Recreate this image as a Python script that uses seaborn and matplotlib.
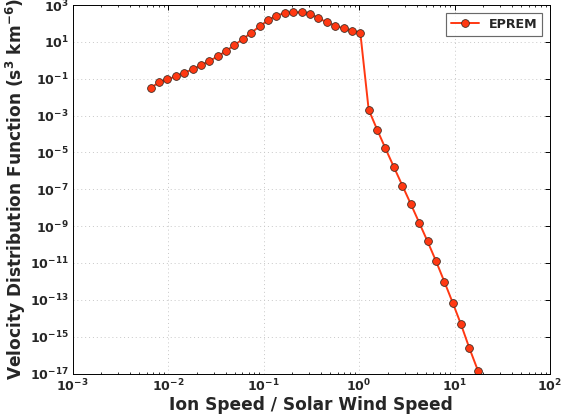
import numpy as np
import pandas as pd
import matplotlib
matplotlib.use("Agg")
import matplotlib.pyplot as plt
import seaborn as sns

# Ion speed normalised by solar wind speed (log-spaced grid)
speed = [0.00655, 0.00801, 0.00981, 0.0120, 0.0147, 0.0180, 0.0220, 0.0270,
         0.0330, 0.0404, 0.0495, 0.0606, 0.0742, 0.0908, 0.111, 0.136,
         0.167, 0.204, 0.250, 0.306, 0.375, 0.459, 0.562, 0.688,
         0.842, 1.03, 1.26, 1.55, 1.89, 2.32, 2.84, 3.48,
         4.26, 5.21, 6.38, 7.81, 9.57, 11.7, 14.3, 17.6]

# Velocity distribution function, s^3 km^-6 (log10 values)
log_vdf = [-1.50, -1.20, -1.04, -0.875, -0.68, -0.495, -0.277, -0.043,
           0.212, 0.50, 0.826, 1.152, 1.495, 1.842, 2.168, 2.418,
           2.565, 2.603, 2.603, 2.511, 2.293, 2.06, 1.875, 1.734,
           1.603, 1.495, -2.68, -3.777, -4.788, -5.804, -6.80, -7.799,
           -8.81, -9.826, -10.886, -12.01, -13.16, -14.34, -15.625, -16.85]

df = pd.DataFrame({"speed": speed, "vdf": 10.0 ** np.array(log_vdf), "model": "EPREM"})

sns.set_theme(style="white")
plt.rcParams["font.family"] = ["DejaVu Sans"]
plt.rcParams["font.weight"] = "bold"
plt.rcParams["mathtext.default"] = "bf"
plt.rcParams["xtick.direction"] = "in"
plt.rcParams["ytick.direction"] = "in"

fig = plt.figure(figsize=(561 / 70, 419 / 70), dpi=70)
ax = fig.add_axes([72.7 / 561, 1 - 373.5 / 419, (550 - 72.7) / 561, (373.5 - 5) / 419])

line_color = "#ff3812"
sns.lineplot(data=df, x="speed", y="vdf", hue="model", palette=[line_color],
             marker="o", markersize=8, markerfacecolor=line_color,
             markeredgecolor="#3a2a20", markeredgewidth=0.8,
             linewidth=2, ax=ax)

ax.set_xscale("log")
ax.set_yscale("log")
ax.set_xlim(1e-3, 1e2)
ax.set_ylim(1e-17, 1e3)

ax.xaxis.set_major_locator(matplotlib.ticker.LogLocator(base=10, numticks=10))
ax.xaxis.set_minor_locator(matplotlib.ticker.LogLocator(base=10, subs=np.arange(2, 10), numticks=20))
ax.yaxis.set_major_locator(matplotlib.ticker.FixedLocator([10.0 ** e for e in range(-17, 4, 2)]))
ax.yaxis.set_minor_locator(matplotlib.ticker.NullLocator())

ax.tick_params(axis="both", which="major", length=5, width=1, color="black",
               labelsize=13, top=True, right=True, pad=4)
ax.tick_params(axis="x", which="minor", length=2.5, width=0.8, color="black",
               top=True, bottom=True)
for lab in ax.get_xticklabels() + ax.get_yticklabels():
    lab.set_fontweight("bold")

ax.grid(True, which="major", linestyle=(0, (1, 3)), color="#c8c8c8", linewidth=1)

for sp in ax.spines.values():
    sp.set_color("black")
    sp.set_linewidth(1)

ax.set_xlabel("Ion Speed / Solar Wind Speed", fontsize=17.5, fontweight="bold", labelpad=2)
ax.set_ylabel(r"Velocity Distribution Function (s$^{3}$ km$^{-6}$)",
              fontsize=17.5, fontweight="bold", labelpad=2)

leg = ax.legend(loc="upper right", frameon=True, fancybox=False,
                prop={"weight": "bold", "size": 13}, handlelength=2.2,
                borderpad=0.4, borderaxespad=0.6)
leg.get_frame().set_edgecolor("#444444")
leg.get_frame().set_linewidth(1.2)

fig.savefig("out.png", dpi=70)
